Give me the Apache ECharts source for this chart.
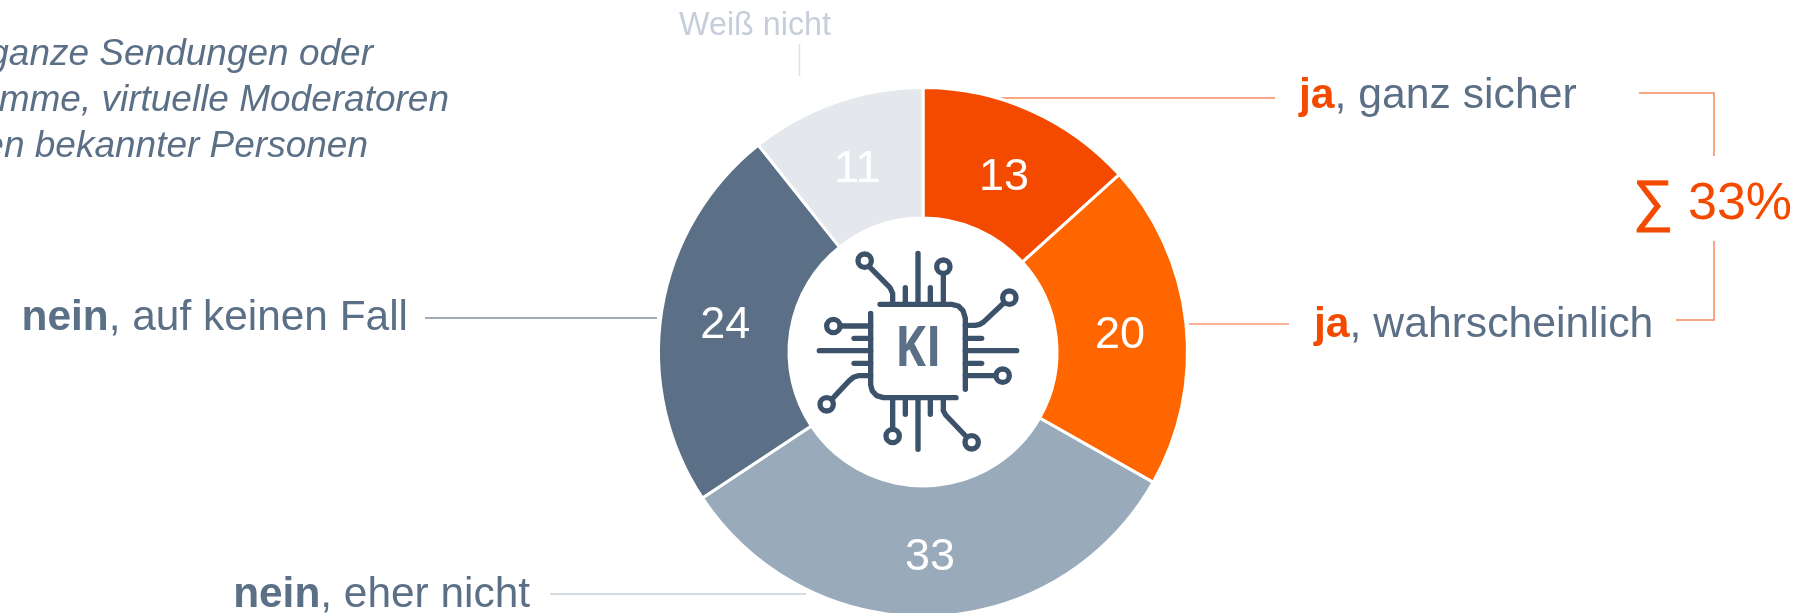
<!DOCTYPE html>
<html style="height: 100%">
<head>
<meta charset="utf-8">
<style>body { margin: 0; background: #fff; } #container { width: 1798px; height: 613px; }</style>
</head>
<body>
<div id="container"></div>
<script src="https://cdn.jsdelivr.net/npm/echarts@6/dist/echarts.min.js"></script>
<script>
var categories = ['ja, ganz sicher', 'ja, wahrscheinlich', 'nein, eher nicht', 'nein, auf keinen Fall', 'Weiß nicht'];
var values = [13.3, 19.9, 32.5, 23.6, 10.7];
var printed = [13, 20, 33, 24, 11];
var colors = ['#F44A00', '#FF6600', '#99AABA', '#5B7086', '#E4E8ED'];
var introLines = ['ganze Sendungen oder', 'mme, virtuelle Moderatoren', 'en bekannter Personen'];
var sumLabel = '33%';

var FONT = '"Liberation Sans", Arial, sans-serif';
var SLATE = '#5B7086';
var ORANGE = '#F44A00';
var ICON = '#3C526A';

function line(x1, y1, x2, y2, color) {
    return {type: 'line', shape: {x1: x1, y1: y1, x2: x2, y2: y2}, style: {stroke: color, lineWidth: 1.5}, silent: true};
}
function label(x, y, align, strong, rest, strongColor, size) {
    return {
        type: 'text', x: x, y: y, silent: true,
        style: {
            text: '{b|' + strong + '}{r|' + rest + '}',
            align: align, verticalAlign: 'middle',
            rich: {
                b: {font: 'bold ' + size + 'px ' + FONT, fill: strongColor},
                r: {font: size + 'px ' + FONT, fill: SLATE}
            }
        }
    };
}
function intro(i, x, y) {
    return {type: 'text', x: x, y: y, silent: true,
        style: {text: introLines[i], align: 'right', verticalAlign: 'middle', font: 'italic 37px ' + FONT, fill: SLATE}};
}

// the chip icon, in its own 3x coordinates
var iconLines = [
    [[300,253],[515,253],[535,258],[549,272],[556,295],[556,508]],
    [[272,280],[272,495],[277,513],[290,527],[310,533],[528,533]],
    [[268,140],[330,203],[338,220],[338,253]], [[376,203],[376,253]], [[414,100],[414,253]], [[451,203],[451,253]], [[490,160],[490,253]],
    [[668,252],[612,305],[600,313],[585,316],[556,316]], [[556,355],[605,355]], [[556,392],[710,392]], [[556,430],[605,430]], [[648,467],[556,467]],
    [[338,533],[338,625]], [[376,533],[376,583]], [[414,533],[414,688]], [[451,533],[451,583]], [[490,533],[490,572],[497,585],[557,648]],
    [[182,318],[272,318]], [[222,355],[272,355]], [[118,392],[272,392]], [[222,430],[272,430]], [[272,467],[235,467],[220,472],[208,482],[158,535]]
];
var iconRings = [[254,122],[490,140],[688,233],[668,467],[338,648],[575,667],[160,318],[140,553]];

var iconChildren = iconLines.map(function (pts) {
    return {type: 'polyline', shape: {points: pts}, silent: true,
        style: {stroke: ICON, lineWidth: 16, fill: null, lineCap: 'round', lineJoin: 'round'}};
}).concat(iconRings.map(function (c) {
    return {type: 'circle', shape: {cx: c[0], cy: c[1], r: 20}, silent: true,
        style: {stroke: ICON, lineWidth: 16, fill: '#fff'}};
}));
iconChildren.push({type: 'text', x: 415, y: 390, scaleX: 0.84, silent: true,
    style: {text: 'KI', align: 'center', verticalAlign: 'middle', font: 'bold 165px "Open Sans", ' + FONT, fill: SLATE}});

// small nudges of the printed numbers inside the ring
var nudgeX = [-1, -4, 0, 2, 1];
var nudgeY = [10, 6, 3, 5, 9];

var dom = document.getElementById('container');
var myChart = echarts.init(dom);
var option = {
    animation: false,
    series: [{
        type: 'pie',
        center: [923, 352],
        radius: [134, 264.5],
        startAngle: 90,
        silent: true,
        itemStyle: {borderColor: '#fff', borderWidth: 3},
        label: {
            position: 'inside', color: '#fff', fontFamily: FONT, fontSize: 45,
            formatter: function (p) { return printed[p.dataIndex]; }
        },
        labelLayout: function (p) {
            return {dx: nudgeX[p.dataIndex], dy: nudgeY[p.dataIndex]};
        },
        labelLine: {show: false},
        data: categories.map(function (name, i) {
            return {name: name, value: values[i], itemStyle: {color: colors[i]}};
        })
    }],
    graphic: {elements: [
        intro(0, 373, 55), intro(1, 449, 101), intro(2, 368, 147),
        {type: 'text', x: 755, y: 26, silent: true,
            style: {text: categories[4], align: 'center', verticalAlign: 'middle', font: '32.3px ' + FONT, fill: '#C5CEDA'}},
        line(799.5, 44, 799.5, 76, '#DDE2E8'),
        line(1001, 98, 1275, 98, '#F8875A'),
        line(1189, 324, 1289, 324, '#FB9A72'),
        line(425, 318, 657, 318, '#7F92A5'),
        line(550, 594, 806, 594, '#C5CFDA'),
        label(1299, 96.5, 'left', 'ja', ', ganz sicher', ORANGE, 42.7),
        label(1314, 325.5, 'left', 'ja', ', wahrscheinlich', ORANGE, 42.7),
        label(408, 318.5, 'right', 'nein', ', auf keinen Fall', SLATE, 42.4),
        label(530, 595.5, 'right', 'nein', ', eher nicht', SLATE, 42.4),
        {type: 'polyline', silent: true, shape: {points: [[1639, 93], [1714, 93], [1714, 156]]},
            style: {stroke: '#F8875A', lineWidth: 1.5, fill: null}},
        {type: 'polyline', silent: true, shape: {points: [[1714, 241], [1714, 320], [1676, 320]]},
            style: {stroke: '#F8875A', lineWidth: 1.5, fill: null}},
        {type: 'text', x: 1653, y: 204, silent: true,
            style: {text: '∑', align: 'center', verticalAlign: 'middle', font: '57px ' + FONT, fill: ORANGE, stroke: ORANGE, lineWidth: 0.8}},
        {type: 'text', x: 1688, y: 205, silent: true,
            style: {text: sumLabel, align: 'left', verticalAlign: 'middle', font: '52px ' + FONT, fill: ORANGE}},
        {type: 'group', x: 780, y: 220, scaleX: 1 / 3, scaleY: 1 / 3, children: iconChildren}
    ]}
};
myChart.setOption(option);
</script>
</body>
</html>
